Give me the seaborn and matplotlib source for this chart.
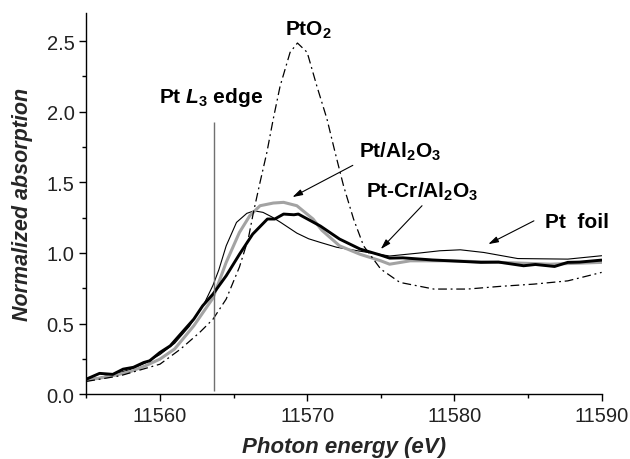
import numpy as np
import pandas as pd
import matplotlib
matplotlib.use("Agg")
import matplotlib.pyplot as plt
import seaborn as sns

# ---- data ----
pt_foil_E = [11555, 11556, 11557, 11558, 11559, 11560, 11561, 11562, 11563, 11563.6,
             11564, 11564.5, 11565.2, 11565.9, 11566.4, 11567, 11567.6, 11568.2, 11569.3,
             11570.1, 11570.9, 11572, 11573.6, 11575.6, 11577.7, 11579, 11580.4, 11582,
             11584.3, 11587.7, 11590]
pt_foil_v = [0.10, 0.12, 0.145, 0.175, 0.22, 0.28, 0.36, 0.48, 0.64, 0.77,
             0.88, 1.05, 1.216, 1.28, 1.298, 1.287, 1.255, 1.216, 1.140,
             1.100, 1.074, 1.04, 1.012, 0.978, 1.000, 1.015, 1.022, 1.003,
             0.960, 0.956, 0.98]

pt_al_E = [11555, 11556, 11557, 11558, 11559, 11560, 11561, 11562.3, 11563.6, 11564.5,
           11565.4, 11566.1, 11566.8, 11567.7, 11568.4, 11569.3, 11570.4, 11571, 11572.2,
           11573.6, 11575, 11575.6, 11577, 11579.7, 11583.1, 11586.5, 11590]
pt_al_v = [0.10, 0.115, 0.135, 0.16, 0.20, 0.248, 0.32, 0.484, 0.68, 0.933,
           1.145, 1.263, 1.334, 1.353, 1.358, 1.334, 1.24, 1.16, 1.05,
           0.99, 0.944, 0.92, 0.944, 0.944, 0.933, 0.92, 0.933]

pt_cr_E = [11555, 11555.9, 11556.8, 11557.5, 11558.2, 11558.9, 11559.3, 11560, 11560.7,
           11561.4, 11562.3, 11562.9, 11563.6, 11564.5, 11565.4, 11566.3, 11567.3, 11567.8,
           11568.4, 11569.1, 11569.4, 11570.9, 11572.2, 11573.6, 11575, 11575.6, 11576.5,
           11577.7, 11578.5, 11579.7, 11580.5, 11581.8, 11583, 11584.7, 11585.5, 11586.8,
           11587.7, 11588.5, 11590]
pt_cr_v = [0.106, 0.147, 0.14, 0.177, 0.19, 0.224, 0.236, 0.295, 0.342,
           0.425, 0.531, 0.625, 0.708, 0.838, 0.99, 1.133, 1.24, 1.24,
           1.275, 1.27, 1.275, 1.19, 1.098, 1.027, 0.984, 0.963, 0.965,
           0.956, 0.95, 0.944, 0.94, 0.933, 0.935, 0.909, 0.918, 0.904,
           0.933, 0.935, 0.949]

pto2_E = [11555, 11557.3, 11560, 11561.4, 11562.7, 11563.6, 11564.5, 11565.4, 11566.0,
          11566.35, 11566.8, 11567.26, 11567.7, 11568.16, 11568.84, 11569.34, 11570.0,
          11570.66, 11571.34, 11571.9, 11572.47, 11573.15, 11573.83, 11575, 11576.3,
          11578.6, 11580.9, 11583.1, 11585.4, 11587.7, 11590]
pto2_v = [0.09, 0.13, 0.212, 0.319, 0.437, 0.53, 0.673, 0.90, 1.10,
          1.287, 1.5, 1.71, 1.95, 2.18, 2.42, 2.486, 2.42,
          2.18, 1.95, 1.71, 1.475, 1.24, 1.05, 0.885, 0.791,
          0.744, 0.744, 0.763, 0.779, 0.802, 0.862]

edge_energy = 11563.65
edge_top = 1.93

x_ticks = [11560, 11570, 11580, 11590]
y_ticks = [0.0, 0.5, 1.0, 1.5, 2.0, 2.5]

# ---- style ----
sns.set_style("ticks")
plt.rcParams['font.family'] = ['Liberation Sans', 'DejaVu Sans']
plt.rcParams['mathtext.fontset'] = 'custom'
plt.rcParams['mathtext.rm'] = 'Liberation Sans:bold'
plt.rcParams['mathtext.bf'] = 'Liberation Sans:bold'
plt.rcParams['mathtext.it'] = 'Liberation Sans:italic:bold'

fig = plt.figure(figsize=(6.3, 4.6), dpi=100)
ax = fig.add_axes([0.137, 0.141, 0.818, 0.829])

sns.lineplot(x=pt_foil_E, y=pt_foil_v, ax=ax, color="black", linewidth=0.8)
sns.lineplot(x=pt_al_E, y=pt_al_v, ax=ax, color="#a3a3a3", linewidth=2.2)
sns.lineplot(x=pt_cr_E, y=pt_cr_v, ax=ax, color="black", linewidth=2.1)
sns.lineplot(x=pto2_E, y=pto2_v, ax=ax, color="black", linewidth=0.9,
             linestyle=(0, (7, 3, 1.5, 3)))

ax.vlines(edge_energy, 0.02, edge_top, color="#707070", linewidth=1.0)

ax.set_xlim(11555, 11590)
ax.set_ylim(0, 2.70)
ax.set_xticks(x_ticks)
ax.set_yticks(y_ticks)
ax.set_yticklabels([f"{t:.1f}" for t in y_ticks])
ax.set_xticks([11555, 11565, 11575, 11585], minor=True)
ax.set_yticks(np.arange(0.25, 2.6, 0.5), minor=True)
ax.tick_params(axis='both', which='major', direction='out', length=5, width=1,
               labelsize=14.5, color='black', labelcolor='#222222')
ax.tick_params(axis='both', which='minor', direction='out', length=3, width=1, color='black')
for s in ['top', 'right']:
    ax.spines[s].set_visible(False)
for s in ['left', 'bottom']:
    ax.spines[s].set_color('black')
    ax.spines[s].set_linewidth(1.0)

ax.set_xlabel("Photon energy (eV)", fontsize=16, fontweight='bold', style='italic', labelpad=8)
ax.set_ylabel("Normalized absorption", fontsize=15.5, fontweight='bold', style='italic', labelpad=10)

tk = dict(fontsize=15, fontweight='bold', ha='center', va='center', color='black')
ax.text(11570.1, 2.585, "PtO$_2$", **tk)
ax.text(11563.5, 2.11, "Pt $L_3$ edge", **tk)
ax.text(11576.3, 1.72, "Pt/Al$_2$O$_3$", **tk)
ax.text(11577.8, 1.44, "Pt-Cr/Al$_2$O$_3$", **tk)
ax.text(11588.3, 1.22, "Pt  foil", **tk)

ap = dict(arrowstyle="-|>,head_length=0.6,head_width=0.18", color="black", lw=0.8,
          shrinkA=0, shrinkB=0)
ax.annotate("", xy=(11569.0, 1.395), xytext=(11573.1, 1.62), arrowprops=ap)
ax.annotate("", xy=(11575.0, 1.027), xytext=(11577.8, 1.334), arrowprops=ap)
ax.annotate("", xy=(11582.3, 1.062), xytext=(11585.4, 1.227), arrowprops=ap)

fig.savefig("out.png", dpi=100)
